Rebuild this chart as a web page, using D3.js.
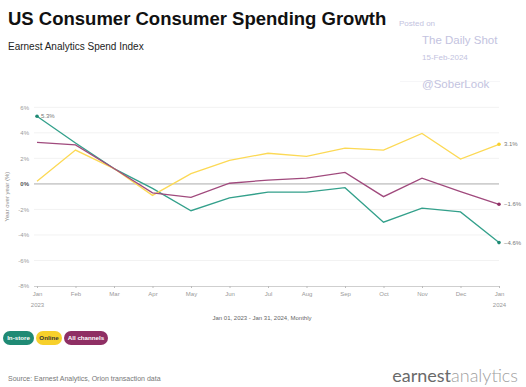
<!DOCTYPE html>
<html>
<head>
<meta charset="utf-8">
<script src="https://cdn.jsdelivr.net/npm/d3@7"></script>
<style>
  body { margin: 0; background: #fff; }
  svg { display: block; font-family: "Liberation Sans", Arial, sans-serif; }
</style>
</head>
<body>
<svg id="chart" width="526" height="387"></svg>
<script>
// Chart data
const months = ["Jan", "Feb", "Mar", "Apr", "May", "Jun", "Jul", "Aug", "Sep", "Oct", "Nov", "Dec", "Jan"];
const years = ["2023", "", "", "", "", "", "", "", "", "", "", "", "2024"];
const inStore = [5.3, 3.2, 1.2, -0.35, -2.1, -1.1, -0.65, -0.65, -0.3, -3.0, -1.9, -2.2, -4.6];
const online = [0.2, 2.65, 1.2, -0.9, 0.8, 1.85, 2.4, 2.15, 2.8, 2.65, 3.95, 1.95, 3.1];
const allChannels = [3.25, 3.05, 1.2, -0.7, -1.05, 0.05, 0.3, 0.45, 0.9, -1.0, 0.45, -0.6, -1.6];
const yTicks = [6, 4, 2, 0, -2, -4, -6, -8];

const series = [
  { name: "In-store", values: inStore, color: "#33a08b", pill: "#1f8a74", text: "#fff" },
  { name: "Online", values: online, color: "#fcd955", pill: "#f7d02b", text: "#333" },
  { name: "All channels", values: allChannels, color: "#a04a7d", pill: "#8f2f64", text: "#fff" }
];

const svg = d3.select("#chart");

// Scales
const x = d3.scaleLinear().domain([0, months.length - 1]).range([37, 499]);
const y = d3.scaleLinear().domain([-8, 6]).range([286, 107.3]);

// Title block
svg.append("text").attr("x", 8).attr("y", 25)
  .attr("font-size", 18.5).attr("font-weight", "bold").attr("fill", "#111")
  .text("US Consumer Consumer Spending Growth");
svg.append("text").attr("x", 8).attr("y", 50)
  .attr("font-size", 10).attr("fill", "#222")
  .text("Earnest Analytics Spend Index");

// Watermark
const wm = "#c3c3e0";
svg.append("text").attr("x", 399).attr("y", 26).attr("font-size", 8).attr("fill", wm).text("Posted on");
svg.append("text").attr("x", 422).attr("y", 44).attr("font-size", 11.5).attr("fill", wm).text("The Daily Shot");
svg.append("text").attr("x", 422).attr("y", 60).attr("font-size", 8).attr("fill", wm).text("15-Feb-2024");
svg.append("line").attr("x1", 400).attr("x2", 500).attr("y1", 81.5).attr("y2", 81.5)
  .attr("stroke", "#f6f6f8").attr("stroke-width", 1);
svg.append("text").attr("x", 422).attr("y", 88).attr("font-size", 11.5).attr("fill", wm).text("@SoberLook");

// Gridlines
svg.append("g").selectAll("line")
  .data(yTicks.filter(d => d !== 0 && d !== -8))
  .join("line")
    .attr("x1", 34).attr("x2", 499)
    .attr("y1", d => y(d)).attr("y2", d => y(d))
    .attr("stroke", "#f2f2f2").attr("stroke-width", 1);

// Zero line
svg.append("line").attr("x1", 34).attr("x2", 499)
  .attr("y1", y(0)).attr("y2", y(0))
  .attr("stroke", "#cfcfcf").attr("stroke-width", 1.6);

// Y axis labels
const yAxis = d3.axisLeft(y).tickValues(yTicks).tickSize(0).tickPadding(0)
  .tickFormat(d => d + "%");
const gy = svg.append("g").attr("transform", "translate(29,0)").call(yAxis);
gy.select(".domain").remove();
gy.selectAll("text")
  .attr("font-size", 6)
  .attr("font-weight", d => d === 0 ? "bold" : "normal")
  .attr("fill", d => d === 0 ? "#555" : "#999");

svg.append("text")
  .attr("transform", "translate(9," + y(-1) + ") rotate(-90)")
  .attr("text-anchor", "middle").attr("font-size", 6).attr("fill", "#888")
  .text("Year over year (%)");

// X axis
const xAxis = d3.axisBottom(x).tickValues(d3.range(months.length))
  .tickSize(2).tickPadding(4).tickFormat(i => months[i]);
const gx = svg.append("g").attr("transform", "translate(0," + y(-8) + ")").call(xAxis);
gx.select(".domain").attr("stroke", "#cfcfcf").attr("d", "M34,0.5H499");
gx.selectAll(".tick line").attr("stroke", "#bbb");
gx.selectAll(".tick text").attr("font-size", 6).attr("fill", "#999");
gx.selectAll(".tick").append("text")
  .attr("y", 17).attr("dy", "0.71em").attr("text-anchor", "middle")
  .attr("font-size", 6).attr("fill", "#999")
  .text(i => years[i]);

svg.append("text").attr("x", 262).attr("y", 320)
  .attr("text-anchor", "middle").attr("font-size", 6).attr("fill", "#666")
  .text("Jan 01, 2023 - Jan 31, 2024, Monthly");

// Lines
const line = d3.line().x((d, i) => x(i)).y(d => y(d));
svg.append("g").selectAll("path")
  .data(series)
  .join("path")
    .attr("d", s => line(s.values))
    .attr("fill", "none")
    .attr("stroke", s => s.color)
    .attr("stroke-width", 1.3);

// Endpoint markers and labels
const lastIdx = months.length - 1;
series.forEach(s => {
  svg.append("circle").attr("cx", x(lastIdx)).attr("cy", y(s.values[lastIdx]))
    .attr("r", 1.8).attr("fill", s.pill);
  svg.append("text").attr("x", x(lastIdx) + 5).attr("y", y(s.values[lastIdx]))
    .attr("dy", "0.35em").attr("font-size", 6).attr("fill", "#777")
    .text(d3.format(".1f")(s.values[lastIdx]) + "%");
});
svg.append("circle").attr("cx", x(0)).attr("cy", y(inStore[0]))
  .attr("r", 1.8).attr("fill", series[0].pill);
svg.append("text").attr("x", x(0) + 4).attr("y", y(inStore[0]))
  .attr("dy", "0.35em").attr("font-size", 6).attr("fill", "#777")
  .text(d3.format(".1f")(inStore[0]) + "%");

// Legend pills
const pillX = [3, 36, 64];
const pillW = [31, 26, 44];
const lg = svg.append("g").selectAll("g").data(series).join("g")
  .attr("transform", (s, i) => "translate(" + pillX[i] + ",331)");
lg.append("rect").attr("width", (s, i) => pillW[i]).attr("height", 14).attr("rx", 7)
  .attr("fill", s => s.pill);
lg.append("text").attr("x", (s, i) => pillW[i] / 2).attr("y", 7).attr("dy", "0.35em")
  .attr("text-anchor", "middle").attr("font-size", 6.2).attr("font-weight", "bold")
  .attr("fill", s => s.text).text(s => s.name);

// Footer
svg.append("text").attr("x", 8).attr("y", 381)
  .attr("font-size", 7).attr("fill", "#777")
  .text("Source: Earnest Analytics, Orion transaction data");
const logo = svg.append("text").attr("x", 518).attr("y", 382)
  .attr("text-anchor", "end").attr("font-size", 18).attr("font-family", "Lato, 'Open Sans', sans-serif");
logo.append("tspan").attr("fill", "#6a6a6a").text("earnest");
logo.append("tspan").attr("fill", "#a0a0a0").attr("font-weight", 300).text("analytics");
</script>
</body>
</html>
